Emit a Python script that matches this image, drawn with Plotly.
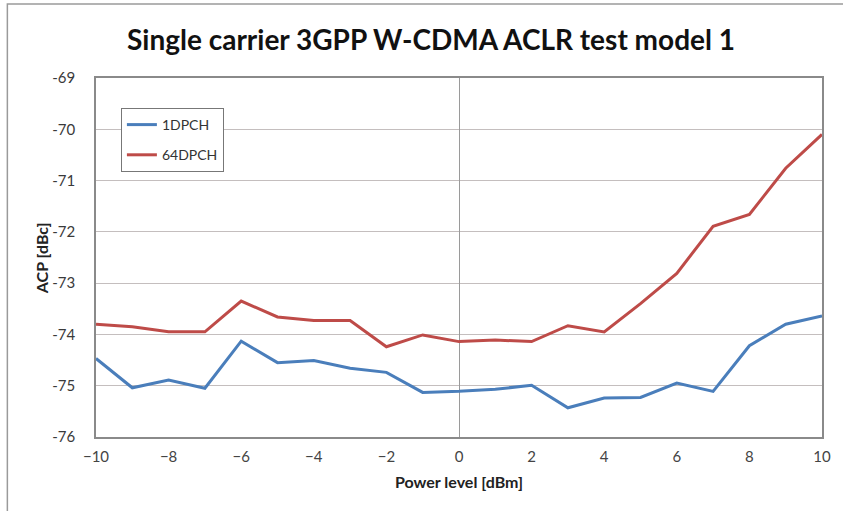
import plotly.graph_objects as go

power_dbm = [-10, -9, -8, -7, -6, -5, -4, -3, -2, -1, 0, 1, 2, 3, 4, 5, 6, 7, 8, 9, 10]
acp_1dpch = [-74.47, -75.04, -74.89, -75.05, -74.13, -74.55, -74.51, -74.66, -74.74, -75.13, -75.11,
             -75.07, -74.99, -75.43, -75.24, -75.23, -74.95, -75.11, -74.22, -73.80, -73.64]
acp_64dpch = [-73.80, -73.85, -73.95, -73.95, -73.35, -73.66, -73.73, -73.73, -74.24, -74.01, -74.14,
              -74.11, -74.14, -73.83, -73.95, -73.40, -72.81, -71.89, -71.66, -70.76, -70.10]

series_names = ["1DPCH", "64DPCH"]
series_colors = ["#4A7EBB", "#BE4B48"]

x_tick_vals = [-10, -8, -6, -4, -2, 0, 2, 4, 6, 8, 10]
y_tick_vals = [-76, -75, -74, -73, -72, -71, -70, -69]
y_tick_text = ["-76", "-75", "-74", "-73", "-72", "-71", "-70", "-69"]

title_text = "Single carrier 3GPP W-CDMA ACLR test model 1"
x_title = "Power level [dBm]"
y_title = "ACP [dBc]"

W, H = 843, 511
L, R, T, B = 96, 18, 78, 74
pw, ph = W - L - R, H - T - B

def px_x(p):
    return (p - L) / pw

def px_y(p):
    return (H - B - p) / ph

fig = go.Figure()
for i, (name, ys) in enumerate(zip(series_names, [acp_1dpch, acp_64dpch])):
    fig.add_trace(go.Scatter(
        x=power_dbm, y=ys, mode="lines", name=name,
        line=dict(color=series_colors[i], width=3),
        legendgroup=name,
    ))

font_main = "Lato, 'Open Sans', sans-serif"

fig.update_layout(
    width=W, height=H,
    margin=dict(l=L, r=R, t=T, b=B),
    paper_bgcolor="white",
    plot_bgcolor="white",
    font=dict(family=font_main, color="#333333"),
    title=dict(
        text="<b>" + title_text + "</b>",
        x=431 / W, xanchor="center",
        y=1 - 40 / H, yanchor="middle",
        font=dict(size=28, color="#111111", family=font_main),
    ),
    showlegend=True,
    legend=dict(
        x=px_x(121), y=px_y(108), xanchor="left", yanchor="top",
        bordercolor="#777777", borderwidth=1, bgcolor="white",
        font=dict(size=14, color="#333333", family=font_main),
        traceorder="grouped", tracegroupgap=9,
    ),
    xaxis=dict(
        range=[-10, 10],
        tickvals=x_tick_vals,
        showgrid=False,
        zeroline=True, zerolinecolor="#9a9a9a", zerolinewidth=1,
        showline=True, linecolor="#8a8a8a", linewidth=1.5, mirror=True,
        ticks="", ticklabelstandoff=5,
        tickfont=dict(size=15, color="#444444", family=font_main),
    ),
    yaxis=dict(
        range=[-76, -69],
        tickvals=y_tick_vals, ticktext=y_tick_text,
        showgrid=True, gridcolor="#c4bebe", gridwidth=1.2,
        zeroline=False,
        showline=True, linecolor="#8a8a8a", linewidth=1.5, mirror=True,
        ticks="", ticklabelstandoff=16,
        tickfont=dict(size=15, color="#3a3a3a", family=font_main),
    ),
    annotations=[
        dict(text="<b>" + x_title + "</b>", xref="paper", yref="paper",
             x=px_x(460), y=px_y(481), xanchor="center", yanchor="middle",
             showarrow=False, font=dict(size=16, color="#222222", family=font_main)),
        dict(text="<b>" + y_title + "</b>", xref="paper", yref="paper",
             x=px_x(41), y=px_y(258), xanchor="center", yanchor="middle",
             textangle=-90, showarrow=False,
             font=dict(size=16, color="#222222", family=font_main)),
    ],
    shapes=[
        dict(type="rect", xref="paper", yref="paper",
             x0=px_x(7), x1=px_x(860), y0=px_y(530), y1=px_y(4),
             line=dict(color="#9a9a9a", width=1.5), fillcolor="rgba(0,0,0,0)", layer="below"),
    ],
)

fig.write_html("out.html", config={"displayModeBar": False},
               post_script="document.body.style.margin='0';")
